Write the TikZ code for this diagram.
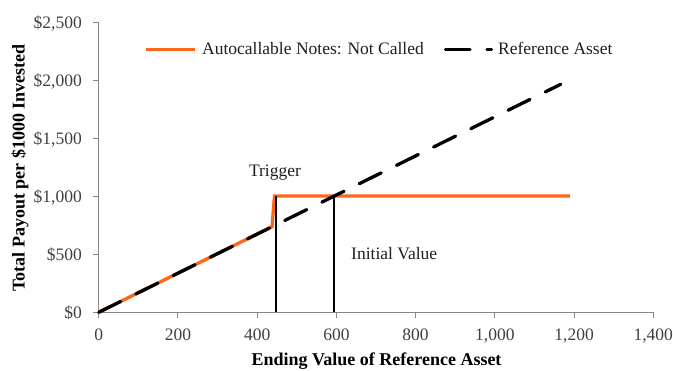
\documentclass[tikz,border=0pt]{standalone}
\usepackage{fontspec}
\setmainfont{Liberation Serif}
\definecolor{orangeline}{RGB}{255,102,26}
\definecolor{axisgray}{RGB}{134,134,134}
\definecolor{ticktext}{RGB}{64,64,64}
\definecolor{bodytext}{RGB}{30,30,30}
\begin{document}
\begin{tikzpicture}[x=1pt,y=-1pt,
  axisline/.style={draw=axisgray,line width=1.1pt},
  ticklabel/.style={inner sep=0pt,text=ticktext,font=\fontsize{17.5}{20}\selectfont},
  bodylabel/.style={inner sep=0pt,text=bodytext,font=\fontsize{17.5}{20}\selectfont},
  axislabel/.style={inner sep=0pt,text=black,font=\fontsize{18}{21}\selectfont\bfseries},
  noteline/.style={draw=orangeline,line width=3.3pt,line join=miter},
  refline/.style={draw=black,line width=3.3pt,line cap=round,dash pattern=on 24.5pt off 17pt},
  markline/.style={draw=black,line width=1.4pt}]
\useasboundingbox (0,0) rectangle (673,371);
% axes
\coordinate (origin) at (98.7,312.3);
\coordinate (ytop) at (98.7,23.3);
\coordinate (xend) at (653.3,312.3);
\draw[axisline] (ytop) -- (origin) -- (xend);
% y ticks
\foreach \v/\lab [count=\i from 0] in {0/{\$0},500/{\$500},1000/{\$1,000},1500/{\$1,500},2000/{\$2,000},2500/{\$2,500}}{
  \pgfmathsetmacro{\yy}{312.3-\v*0.1158}
  \coordinate (yt\i) at (98.7,\yy);
  \coordinate (ytl\i) at (93.3,\yy);
  \draw[axisline] (ytl\i) -- (yt\i);
  \node[ticklabel,anchor=base east] (ylab\i) at (82,\yy+5.8) {\lab};
}
% x ticks
\foreach \v/\lab [count=\i from 0] in {0/0,200/200,400/400,600/600,800/800,1000/{1,000},1200/{1,200},1400/{1,400}}{
  \pgfmathsetmacro{\xx}{98.7+\v*0.39614}
  \coordinate (xt\i) at (\xx,312.3);
  \coordinate (xtb\i) at (\xx,317.8);
  \draw[axisline] (xt\i) -- (xtb\i);
  \node[ticklabel,anchor=base] (xlab\i) at (\xx,341) {\lab};
}
% axis titles
\node[axislabel,anchor=base] (xtitle) at (376.5,366) {Ending Value of Reference Asset};
\node[axislabel,anchor=base,rotate=90] (ytitle) at (24.5,168) {Total Payout per \$1000 Invested};
% notes payout
\coordinate (kink) at (272,226.7);
\coordinate (jump) at (274.5,196);
\coordinate (noteend) at (570,196);
\draw[noteline] (origin) -- (kink) -- (jump) -- (noteend);
% reference asset
\coordinate (refend) at (560.7,84.3);
\draw[refline] (origin) -- (refend);
% marker lines
\coordinate (trigbot) at (276,312.3);
\coordinate (trigtop) at (276,196);
\coordinate (initbot) at (334,312.3);
\coordinate (inittop) at (334,196);
\draw[markline] (trigbot) -- (trigtop);
\draw[markline] (initbot) -- (inittop);
\node[bodylabel,anchor=base] (trigger) at (275,176.7) {Trigger};
\node[bodylabel,anchor=base west] (initial) at (351,259.5) {Initial Value};
% legend
\coordinate (lega) at (146,49.3);
\coordinate (legb) at (195,49.3);
\draw[draw=orangeline,line width=3.3pt] (lega) -- (legb);
\node[bodylabel,anchor=base west] (legnotes) at (202,55) {Autocallable Notes: Not Called};
\coordinate (legc) at (445.5,49.3);
\coordinate (legd) at (491.5,49.3);
\draw[refline] (legc) -- (legd);
\node[bodylabel,anchor=base west] (legref) at (498,55) {Reference Asset};
\end{tikzpicture}
\end{document}
